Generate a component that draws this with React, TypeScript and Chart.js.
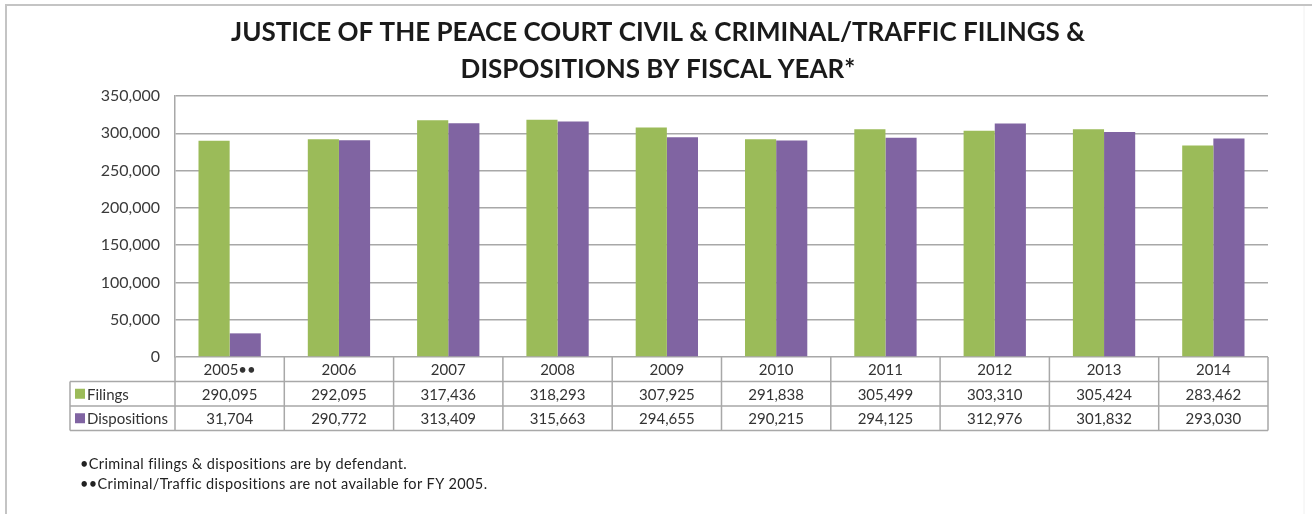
import { useEffect, useRef } from 'react';
import { Chart, registerables } from 'chart.js';

Chart.register(...registerables);

const categories = ['2005••', '2006', '2007', '2008', '2009', '2010', '2011', '2012', '2013', '2014'];
const filings = [290095, 292095, 317436, 318293, 307925, 291838, 305499, 303310, 305424, 283462];
const dispositions = [31704, 290772, 313409, 315663, 294655, 290215, 294125, 312976, 301832, 293030];
const seriesNames = ['Filings', 'Dispositions'];
const seriesColors = ['#9BBB59', '#8064A2'];
const titleLines = [
  'JUSTICE OF THE PEACE COURT CIVIL & CRIMINAL/TRAFFIC FILINGS &',
  'DISPOSITIONS BY FISCAL YEAR*',
];
const footnotes = [
  '•Criminal filings & dispositions are by defendant.',
  '••Criminal/Traffic dispositions are not available for FY 2005.',
];
const yMin = 0;
const yMax = 350000;
const yStep = 50000;

const W = 1312;
const H = 514;
const FONT = 'Lato, "Open Sans", sans-serif';

const fmt = (v: number) => v.toLocaleString('en-US');

const decorPlugin = {
  id: 'decor',
  afterDraw(chart: any) {
    const ctx = chart.ctx as CanvasRenderingContext2D;
    const area = chart.chartArea;
    const xs = chart.scales.x;
    const n = categories.length;
    const colW = (area.right - area.left) / n;
    ctx.save();

    // outer frame
    ctx.strokeStyle = '#c4c4c4';
    ctx.lineWidth = 2;
    ctx.beginPath();
    ctx.moveTo(6, H);
    ctx.lineTo(6, 5);
    ctx.lineTo(W, 5);
    ctx.stroke();
    ctx.strokeStyle = '#f0f0f0';
    ctx.lineWidth = 1;
    ctx.beginPath();
    ctx.moveTo(1304, 6);
    ctx.lineTo(1304, H);
    ctx.stroke();

    // title
    ctx.fillStyle = '#1a1a1a';
    ctx.font = `bold 26px ${FONT}`;
    ctx.textAlign = 'center';
    ctx.textBaseline = 'middle';
    ctx.fillText(titleLines[0], 658, 33);
    ctx.fillText(titleLines[1], 658, 70);

    // data table
    const rowH = 24.5;
    const top = area.bottom;
    const r1 = top + rowH;
    const r2 = r1 + rowH;
    const r3 = r2 + rowH;
    const legendLeft = 70;
    ctx.strokeStyle = '#a8a8a8';
    ctx.lineWidth = 1.5;
    ctx.beginPath();
    for (const yy of [r1, r2, r3]) {
      ctx.moveTo(legendLeft, yy);
      ctx.lineTo(area.right, yy);
    }
    ctx.moveTo(legendLeft, r1);
    ctx.lineTo(legendLeft, r3);
    for (let i = 0; i <= n; i++) {
      const bx = i < n ? xs.getPixelForValue(i) - colW / 2 : xs.getPixelForValue(n - 1) + colW / 2;
      ctx.moveTo(bx, top);
      ctx.lineTo(bx, r3);
    }
    ctx.stroke();

    ctx.font = `15px ${FONT}`;
    ctx.fillStyle = '#333333';
    ctx.textAlign = 'center';
    ctx.textBaseline = 'middle';
    const rows = [filings, dispositions];
    for (let i = 0; i < n; i++) {
      const cx = xs.getPixelForValue(i);
      ctx.fillText(categories[i], cx, (top + r1) / 2 + 1);
      ctx.fillText(fmt(rows[0][i]), cx, (r1 + r2) / 2 + 1);
      ctx.fillText(fmt(rows[1][i]), cx, (r2 + r3) / 2 + 1);
    }
    const rowMid = [(r1 + r2) / 2, (r2 + r3) / 2];
    ctx.textAlign = 'left';
    for (let s = 0; s < 2; s++) {
      ctx.fillStyle = seriesColors[s];
      ctx.fillRect(75, rowMid[s] - 5, 10, 10);
      ctx.fillStyle = '#333333';
      ctx.fillText(seriesNames[s], 87, rowMid[s] + 1);
    }

    // footnotes
    ctx.font = `14.5px ${FONT}`;
    (ctx as any).letterSpacing = '0.35px';
    ctx.fillStyle = '#222222';
    ctx.fillText(footnotes[0], 80, 464);
    ctx.fillText(footnotes[1], 80, 484);

    ctx.restore();
  },
};

export default function App() {
  const ref = useRef<HTMLCanvasElement | null>(null);
  useEffect(() => {
    if (!ref.current) return;
    const chart = new Chart(ref.current, {
      type: 'bar',
      data: {
        labels: categories,
        datasets: [
          { label: seriesNames[0], data: filings, backgroundColor: seriesColors[0] },
          { label: seriesNames[1], data: dispositions, backgroundColor: seriesColors[1] },
        ],
      },
      options: {
        responsive: false,
        animation: false,
        layout: { padding: { left: 0, right: 44, top: 96, bottom: 157 } },
        datasets: { bar: { barPercentage: 1.0, categoryPercentage: 0.57 } },
        plugins: {
          legend: { display: false },
          title: { display: false },
          tooltip: { enabled: false },
        },
        scales: {
          x: {
            grid: { display: false },
            border: { display: false },
            ticks: { display: false },
            afterFit: (s: any) => { s.height = 0; },
          },
          y: {
            min: yMin,
            max: yMax,
            ticks: {
              stepSize: yStep,
              padding: 15,
              color: '#3a3a3a',
              font: { family: FONT, size: 16 },
              callback: (v: any) => fmt(Number(v)),
            },
            grid: { color: '#a8a8a8', lineWidth: 1.5, drawTicks: false },
            border: { display: true, color: '#a8a8a8', width: 1.5 },
            afterFit: (s: any) => { s.width = 175; },
          },
        },
      },
      plugins: [decorPlugin],
    });
    return () => chart.destroy();
  }, []);
  return (
    <div style={{ position: 'absolute', left: 0, top: 0, width: W, height: H, background: '#fff' }}>
      <canvas ref={ref} width={W} height={H} style={{ display: 'block' }} />
    </div>
  );
}
